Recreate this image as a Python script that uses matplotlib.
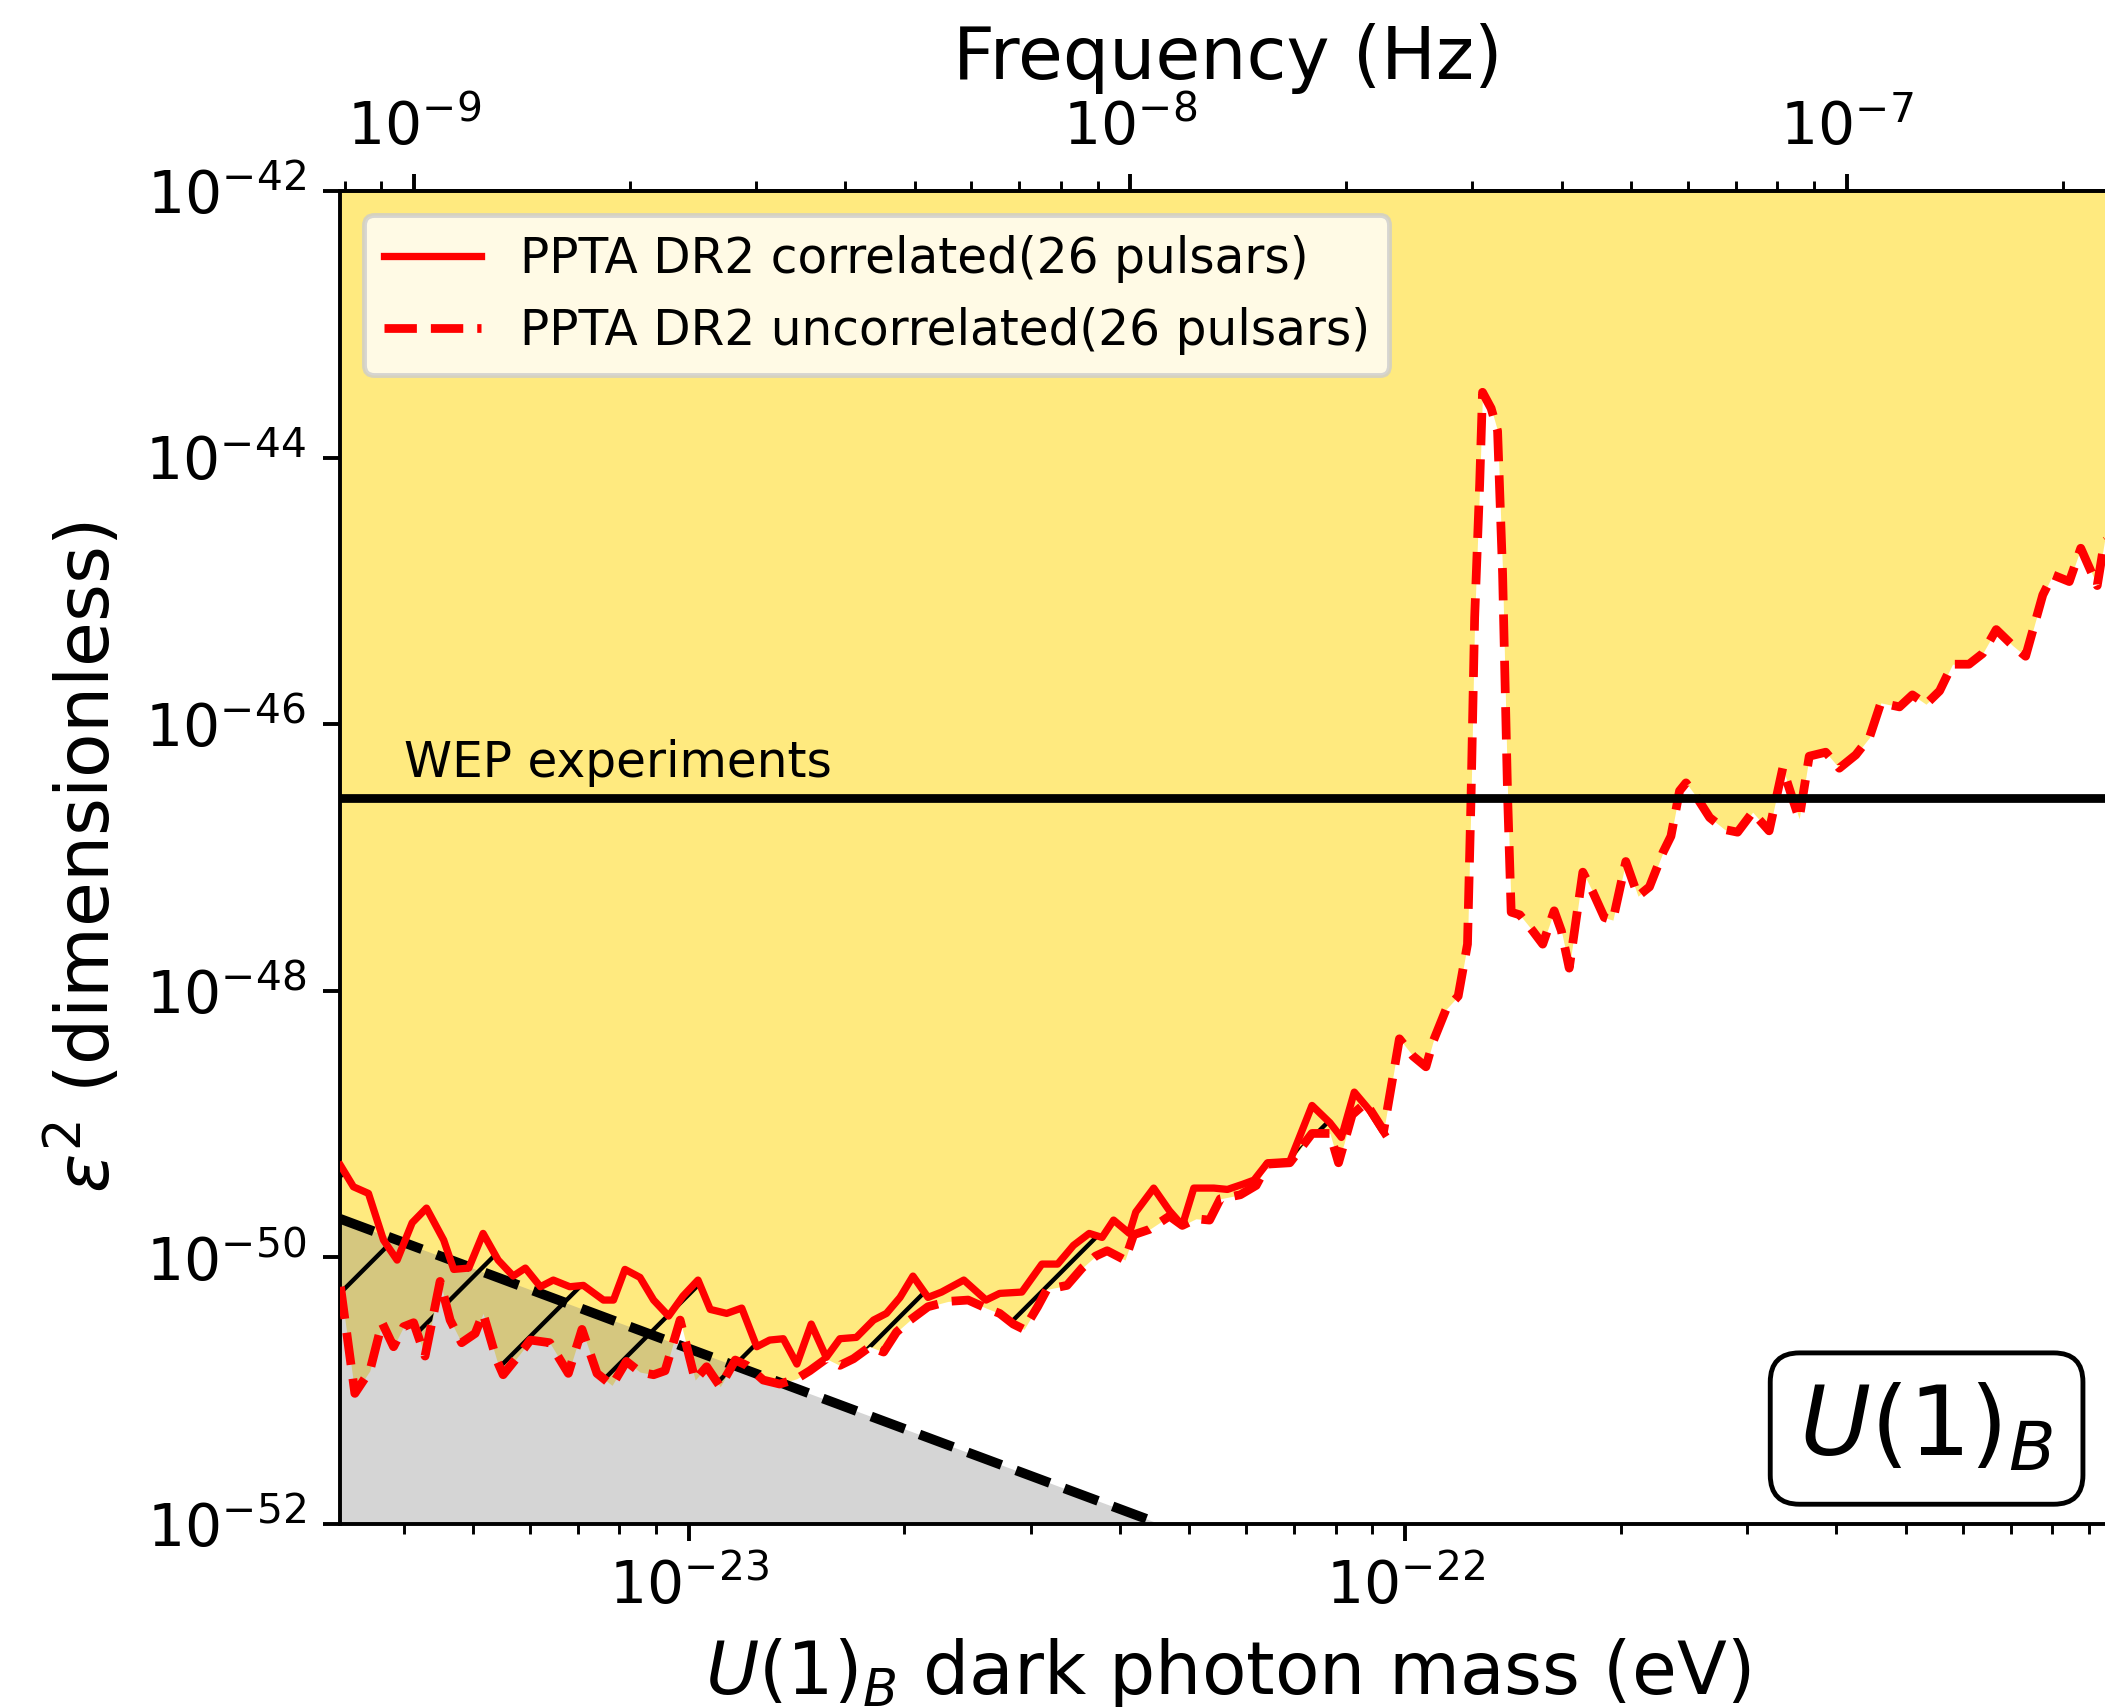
import numpy as np
import matplotlib
matplotlib.use("Agg")
import matplotlib.pyplot as plt
from matplotlib.ticker import NullLocator

# values (log10 of mass in eV, log10 of eps^2)
corr_log_mass = [-23.486, -23.468, -23.447, -23.426, -23.407, -23.386, -23.366, -23.342, -23.328, -23.307,
                 -23.287, -23.266, -23.245, -23.228, -23.207, -23.189, -23.166, -23.147, -23.119, -23.105,
                 -23.089, -23.068, -23.049, -23.028, -23.008, -22.987, -22.970, -22.947, -22.926, -22.905,
                 -22.887, -22.868, -22.849, -22.829, -22.808, -22.789, -22.766, -22.742, -22.724, -22.705,
                 -22.687, -22.666, -22.647, -22.616, -22.585, -22.566, -22.535, -22.507, -22.485, -22.463,
                 -22.441, -22.423, -22.407, -22.385, -22.376, -22.351, -22.329, -22.311, -22.295, -22.267,
                 -22.248, -22.226, -22.211, -22.192, -22.161, -22.130, -22.105, -22.089, -22.071, -22.049,
                 -22.029]
corr_log_eps2 = [-49.31, -49.47, -49.52, -49.87, -50.02, -49.74, -49.63, -49.87, -50.09, -50.08,
                 -49.82, -50.02, -50.14, -50.08, -50.22, -50.17, -50.22, -50.21, -50.32, -50.32,
                 -50.09, -50.15, -50.32, -50.44, -50.29, -50.17, -50.39, -50.42, -50.38, -50.67,
                 -50.62, -50.61, -50.80, -50.50, -50.75, -50.61, -50.60, -50.47, -50.42, -50.30,
                 -50.14, -50.30, -50.26, -50.17, -50.32, -50.27, -50.26, -50.05, -50.05, -49.91,
                 -49.82, -49.85, -49.72, -49.82, -49.66, -49.48, -49.65, -49.76, -49.48, -49.48,
                 -49.49, -49.45, -49.42, -49.29, -49.28, -48.86, -48.99, -49.10, -48.76, -48.90,
                 -49.07]

uncorr_log_mass = [-23.486, -23.466, -23.445, -23.428, -23.412, -23.398, -23.384, -23.368, -23.347, -23.333,
                   -23.317, -23.298, -23.287, -23.268, -23.259, -23.235, -23.221, -23.194, -23.168, -23.149,
                   -23.128, -23.107, -23.087, -23.068, -23.049, -23.033, -23.012, -22.991, -22.975, -22.956,
                   -22.935, -22.919, -22.896, -22.873, -22.849, -22.831, -22.808, -22.789, -22.770, -22.747,
                   -22.728, -22.710, -22.691, -22.666, -22.638, -22.610, -22.585, -22.566, -22.547, -22.532,
                   -22.513, -22.500, -22.472, -22.451, -22.432, -22.416, -22.391, -22.379, -22.357, -22.329,
                   -22.311, -22.292, -22.273, -22.258, -22.230, -22.208, -22.192, -22.161, -22.130, -22.105,
                   -22.093, -22.074, -22.055, -22.030, -22.008, -21.989, -21.971, -21.961, -21.943, -21.926,
                   -21.913, -21.908, -21.903, -21.896, -21.892, -21.880, -21.871, -21.864, -21.857, -21.852,
                   -21.840, -21.822, -21.808, -21.792, -21.782, -21.771, -21.752, -21.738, -21.722, -21.710,
                   -21.692, -21.675, -21.659, -21.640, -21.629, -21.617, -21.608, -21.594, -21.575, -21.554,
                   -21.536, -21.515, -21.492, -21.473, -21.461, -21.450, -21.436, -21.413, -21.394, -21.371,
                   -21.352, -21.336, -21.310, -21.292, -21.273, -21.254, -21.236, -21.213, -21.194, -21.175,
                   -21.152, -21.134, -21.110, -21.096, -21.073, -21.057, -21.034, -21.024, -21.005]
uncorr_log_eps2 = [-50.22, -51.02, -50.85, -50.49, -50.67, -50.52, -50.49, -50.74, -50.18, -50.47,
                   -50.64, -50.57, -50.42, -50.77, -50.88, -50.72, -50.62, -50.64, -50.87, -50.54,
                   -50.87, -50.96, -50.78, -50.86, -50.88, -50.85, -50.47, -50.92, -50.82, -50.97,
                   -50.77, -50.81, -50.92, -50.95, -50.91, -50.85, -50.76, -50.81, -50.76, -50.67,
                   -50.71, -50.56, -50.47, -50.37, -50.33, -50.32, -50.38, -50.42, -50.50, -50.54,
                   -50.37, -50.24, -50.21, -50.08, -49.99, -49.95, -50.02, -49.83, -49.79, -49.69,
                   -49.76, -49.71, -49.72, -49.56, -49.53, -49.46, -49.30, -49.29, -49.07, -49.07,
                   -49.29, -48.93, -48.84, -49.05, -48.36, -48.49, -48.57, -48.38, -48.14, -48.04,
                   -47.65, -46.54, -45.20, -44.20, -43.51, -43.63, -43.80, -44.87, -46.54, -47.41,
                   -47.43, -47.55, -47.65, -47.40, -47.55, -47.83, -47.11, -47.26, -47.45, -47.47,
                   -47.03, -47.29, -47.22, -46.96, -46.84, -46.50, -46.44, -46.54, -46.70, -46.79,
                   -46.81, -46.66, -46.80, -46.33, -46.53, -46.71, -46.24, -46.21, -46.33, -46.23,
                   -46.10, -45.84, -45.87, -45.78, -45.85, -45.75, -45.55, -45.55, -45.47, -45.29,
                   -45.41, -45.49, -45.03, -44.88, -44.93, -44.68, -44.96, -44.63, -44.55]

# power-law bound (gray region), two end points
bound_mass = [3.26e-24, 4.55e-23]
bound_eps2 = [1.95e-50, 1e-52]

wep_eps2 = 2.8e-47
h_ev = 4.1357e-15  # Planck constant, eV s

x_ticks = [1e-23, 1e-22]
f_ticks = [1e-9, 1e-8, 1e-7]
y_ticks = [1e-52, 1e-50, 1e-48, 1e-46, 1e-44, 1e-42]

plt.rcParams["hatch.linewidth"] = 0.9

fig = plt.figure(figsize=(2105 / 350, 1707 / 350), dpi=350)
ax = fig.add_axes([0.1615, 0.1072, 0.8434, 0.7809])

m_c = 10 ** np.array(corr_log_mass)
e_c = 10 ** np.array(corr_log_eps2)
m_u = 10 ** np.array(uncorr_log_mass)
e_u = 10 ** np.array(uncorr_log_eps2)

# excluded regions
ax.fill_between(m_u, e_u, 1e-42, color="gold", alpha=0.5, lw=0, zorder=1)
ax.fill_between(bound_mass, bound_eps2, 1e-52, color="gray", alpha=0.33, lw=0, zorder=2)

# hatch between correlated and uncorrelated curves
sel = m_u <= m_c.max() * 1.001
hx = np.concatenate([m_c, m_u[sel][::-1]])
hy = np.concatenate([e_c, e_u[sel][::-1]])
ax.fill(hx, hy, facecolor="none", edgecolor="black", hatch="/", lw=0, zorder=3)

ax.plot(bound_mass, bound_eps2, color="black", ls="--", lw=2.0, zorder=4)
ax.plot(m_c, e_c, color="red", ls="-", lw=1.5, zorder=5, label="PPTA DR2 correlated(26 pulsars)")
ax.plot(m_u, e_u, color="red", ls="--", lw=1.8, zorder=5, label="PPTA DR2 uncorrelated(26 pulsars)")
ax.axhline(wep_eps2, color="black", lw=1.8, zorder=6)
ax.text(4.0e-24, 4.0e-47, "WEP experiments", fontsize=10, zorder=7)

ax.set_xscale("log")
ax.set_yscale("log")
ax.set_xlim(3.26e-24, 9.8e-22)
ax.set_ylim(1e-52, 1e-42)
ax.set_xticks(x_ticks)
ax.set_yticks(y_ticks)
ax.yaxis.set_minor_locator(NullLocator())
ax.tick_params(labelsize=12)

ax.set_xlabel(r"$U(1)_B$ dark photon mass (eV)", fontsize=15)
ax.set_ylabel(r"$\varepsilon^2$ (dimensionless)", fontsize=15)

secax = ax.secondary_xaxis("top", functions=(lambda m: m / h_ev, lambda f: f * h_ev))
secax.set_xticks(f_ticks)
secax.set_xlabel("Frequency (Hz)", fontsize=15)
secax.tick_params(labelsize=12)

ax.legend(loc="upper left", fontsize=10)

ax.text(0.8937, 0.0716, r"$U(1)_B$", transform=ax.transAxes, fontsize=20,
        ha="center", va="center", zorder=8,
        bbox=dict(boxstyle="round", fc="white", ec="black"))

fig.savefig("out.png", dpi=350)
